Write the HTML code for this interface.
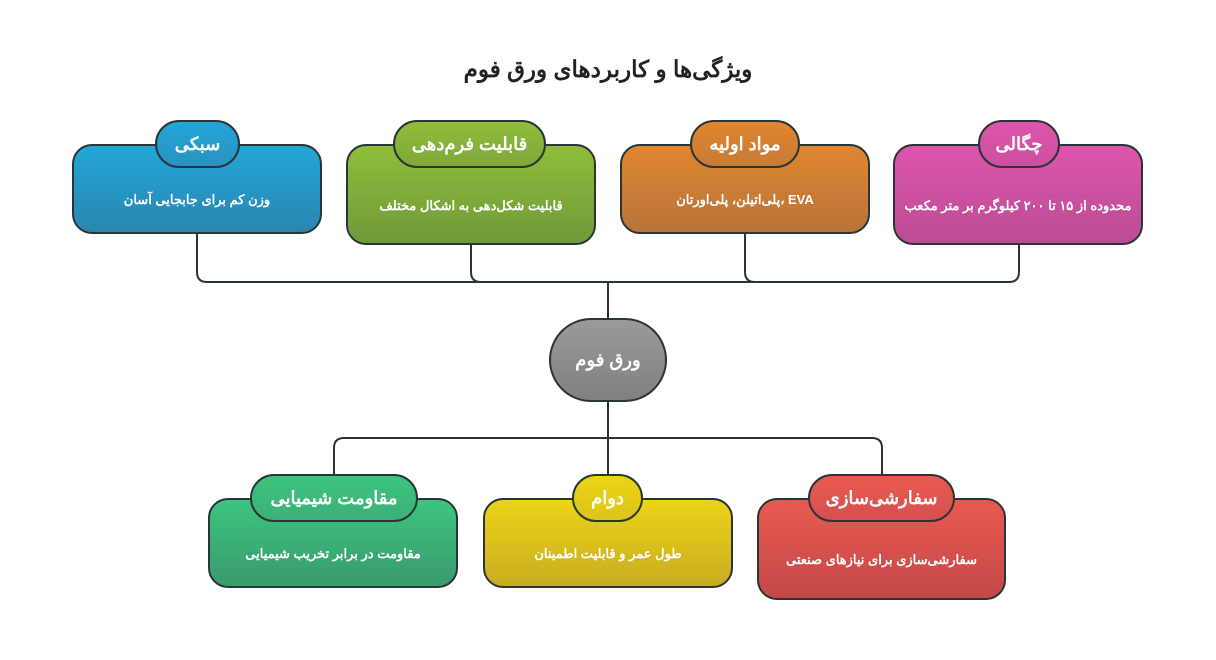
<!DOCTYPE html>
<html><head><meta charset="utf-8"><style>
body{margin:0;width:1216px;height:660px;background:#fff;position:relative;overflow:hidden;font-family:"Liberation Sans","Noto Sans CJK SC",sans-serif;direction:rtl}
.b{position:absolute;border:2px solid #2a3535;border-radius:20px;box-sizing:border-box;color:#fff;font-size:13px;font-weight:bold;display:flex;align-items:center;justify-content:center;text-align:center;padding-top:22px}
.t{position:absolute;border:2px solid #2a3535;border-radius:24px;box-sizing:border-box;color:#fff;font-size:18px;font-weight:bold;display:flex;align-items:center;justify-content:center;white-space:nowrap}
.title{position:absolute;left:0;width:1216px;top:56px;text-align:center;font-size:23px;font-weight:bold;color:#222}
</style></head><body>
<svg width="1216" height="660" style="position:absolute;left:0;top:0">
<g fill="none" stroke="#2a3535" stroke-width="2">
<path d="M197 234 V272 Q197 282 207 282 H1009 Q1019 282 1019 272 V245"/>
<path d="M471 245 V272 Q471 282 481 282"/>
<path d="M745 234 V272 Q745 282 755 282"/>
<path d="M608 282 V318"/>
<path d="M608 402 V438"/>
<path d="M334 498 V448 Q334 438 344 438 H872 Q882 438 882 448 V498"/>
<path d="M608 438 V498"/>
</g></svg>
<div class="title">ویژگی‌ها و کاربردهای ورق فوم</div>

<div class="b" style="left:72px;top:144px;width:250px;height:90px;background:linear-gradient(#22a6d8,#2a86b0)">وزن کم برای جابجایی آسان</div>
<div class="t" style="left:155px;top:120px;width:85px;height:48px;background:linear-gradient(#22a6d8,#2a92c0)">سبکی</div>

<div class="b" style="left:346px;top:144px;width:250px;height:101px;background:linear-gradient(#8fbd3a,#6f9a3a)">قابلیت شکل‌دهی به اشکال مختلف</div>
<div class="t" style="left:393px;top:120px;width:153px;height:48px;background:linear-gradient(#8fbd3a,#7fa83a)">قابلیت فرم‌دهی</div>

<div class="b" style="left:620px;top:144px;width:250px;height:90px;background:linear-gradient(#e0862e,#b8743c)">EVA ،پلی‌اتیلن، پلی‌اورتان</div>
<div class="t" style="left:690px;top:120px;width:110px;height:48px;background:linear-gradient(#e0862e,#c87a36)">مواد اولیه</div>

<div class="b" style="left:893px;top:144px;width:250px;height:101px;background:linear-gradient(#de55ad,#bb4c95)">محدوده از ۱۵ تا ۲۰۰ کیلوگرم بر متر مکعب</div>
<div class="t" style="left:978px;top:120px;width:82px;height:48px;background:linear-gradient(#de55ad,#cc50a0)">چگالی</div>

<div class="t" style="left:549px;top:318px;width:118px;height:84px;border-radius:42px;background:linear-gradient(#9a9a9a,#808080)">ورق فوم</div>

<div class="b" style="left:208px;top:498px;width:250px;height:90px;background:linear-gradient(#3cc57e,#3a9a6e)">مقاومت در برابر تخریب شیمیایی</div>
<div class="t" style="left:250px;top:474px;width:168px;height:48px;background:linear-gradient(#3cc57e,#3cb076)">مقاومت شیمیایی</div>

<div class="b" style="left:483px;top:498px;width:250px;height:90px;background:linear-gradient(#ecd416,#c8ac22)">طول عمر و قابلیت اطمینان</div>
<div class="t" style="left:572px;top:474px;width:71px;height:48px;background:linear-gradient(#ecd416,#dcc41a)">دوام</div>

<div class="b" style="left:757px;top:498px;width:249px;height:102px;background:linear-gradient(#e85a50,#c44848)">سفارشی‌سازی برای نیازهای صنعتی</div>
<div class="t" style="left:808px;top:474px;width:147px;height:48px;background:linear-gradient(#e85a50,#d65050)">سفارشی‌سازی</div>
</body></html>
